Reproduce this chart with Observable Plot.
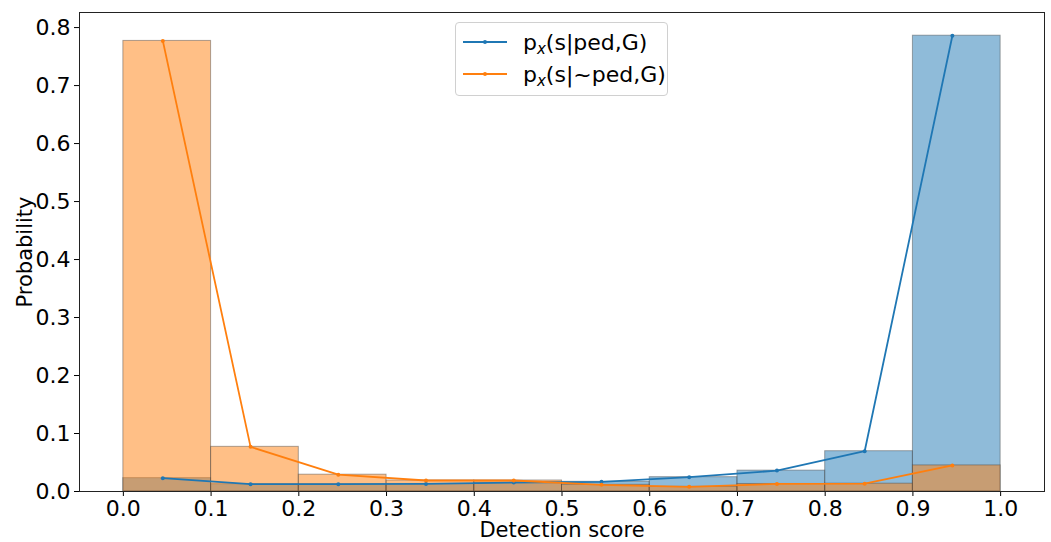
<!DOCTYPE html>
<html><head><meta charset="utf-8">
<script src="https://cdn.jsdelivr.net/npm/d3@7"></script>
<script src="https://cdn.jsdelivr.net/npm/@observablehq/plot@0.6"></script>
<style>
body{margin:0;background:#fff;font-family:"DejaVu Sans",sans-serif;}
#wrap{position:relative;width:1051px;height:542px;}
.legend{position:absolute;left:455px;top:22px;width:213px;height:74px;box-sizing:border-box;border:1px solid #d0d0d0;border-radius:4px;background:rgba(255,255,255,0.85);font-size:22px;color:#000;}
.row{position:absolute;left:7px;height:30px;display:flex;align-items:center;}
.row svg{margin-right:16px;}
sub{font-size:15px;vertical-align:-4px;line-height:0;}
</style></head>
<body>
<div id="wrap"></div>
<script>
const binStarts = [0.0,0.1,0.2,0.3,0.4,0.5,0.6,0.7,0.8,0.9];
const pointX = [0.045,0.145,0.245,0.345,0.445,0.545,0.645,0.745,0.845,0.945];
const pedValues = [0.023,0.0126,0.0126,0.013,0.0155,0.0167,0.0247,0.036,0.0695,0.786];
const notPedValues = [0.777,0.077,0.029,0.019,0.019,0.0115,0.008,0.013,0.0135,0.045];
const xTicks = [0.0,0.1,0.2,0.3,0.4,0.5,0.6,0.7,0.8,0.9,1.0];
const yTicks = [0.0,0.1,0.2,0.3,0.4,0.5,0.6,0.7,0.8];
const xLabel = "Detection score";
const yLabel = "Probability";
const blue = "#1f77b4", orange = "#ff7f0e";

const ped = binStarts.map((b,i)=>({x0:b,x1:b+0.1,xc:pointX[i],v:pedValues[i]}));
const notPed = binStarts.map((b,i)=>({x0:b,x1:b+0.1,xc:pointX[i],v:notPedValues[i]}));

const chart = Plot.plot({
  width:1051, height:542,
  marginLeft:79, marginRight:7, marginTop:12, marginBottom:51,
  style:{fontFamily:"DejaVu Sans", fontSize:"22px", color:"#000", background:"#fff"},
  x:{domain:[-0.05,1.05]},
  y:{domain:[0,0.826]},
  marks:[
    Plot.rect(ped,{x1:"x0",x2:"x1",y1:()=>0,y2:"v",fill:blue,fillOpacity:0.5,stroke:"#444",strokeOpacity:0.45,strokeWidth:1}),
    Plot.rect(notPed,{x1:"x0",x2:"x1",y1:()=>0,y2:"v",fill:orange,fillOpacity:0.5,stroke:"#444",strokeOpacity:0.45,strokeWidth:1}),
    Plot.line(ped,{x:"xc",y:"v",stroke:blue,strokeWidth:1.8}),
    Plot.dot(ped,{x:"xc",y:"v",fill:blue,r:2}),
    Plot.line(notPed,{x:"xc",y:"v",stroke:orange,strokeWidth:1.8}),
    Plot.dot(notPed,{x:"xc",y:"v",fill:orange,r:2}),
    Plot.axisX({ticks:xTicks,tickFormat:d3.format(".1f"),tickSize:5,tickPadding:4,label:null}),
    Plot.axisY({ticks:yTicks,tickFormat:d3.format(".1f"),tickSize:5,tickPadding:4,label:null}),
    Plot.text([xLabel],{text:d=>d,frameAnchor:"bottom",textAnchor:"middle",lineAnchor:"middle",dy:39,fontSize:21,fill:"#000"}),
    Plot.text([yLabel],{text:d=>d,frameAnchor:"left",textAnchor:"middle",lineAnchor:"middle",rotate:-90,dx:-54,fontSize:21,fill:"#000"}),
    Plot.frame({stroke:"#222",strokeWidth:1})
  ]
});
const wrap = document.getElementById("wrap");
wrap.appendChild(chart);

const legendItems = [
  {color:blue, html:'p<sub><i>x</i></sub>(s|ped,G)', top:4},
  {color:orange, html:'p<sub><i>x</i></sub>(s|~ped,G)', top:36}
];
const lg = document.createElement("div");
lg.className = "legend";
for (const it of legendItems) {
  const r = document.createElement("div");
  r.className = "row";
  r.style.top = it.top + "px";
  r.innerHTML = `<svg width="44" height="10"><line x1="0" y1="5" x2="44" y2="5" stroke="${it.color}" stroke-width="1.8"/><circle cx="22" cy="5" r="2" fill="${it.color}"/></svg><span>${it.html}</span>`;
  lg.appendChild(r);
}
wrap.appendChild(lg);
</script>
</body></html>
